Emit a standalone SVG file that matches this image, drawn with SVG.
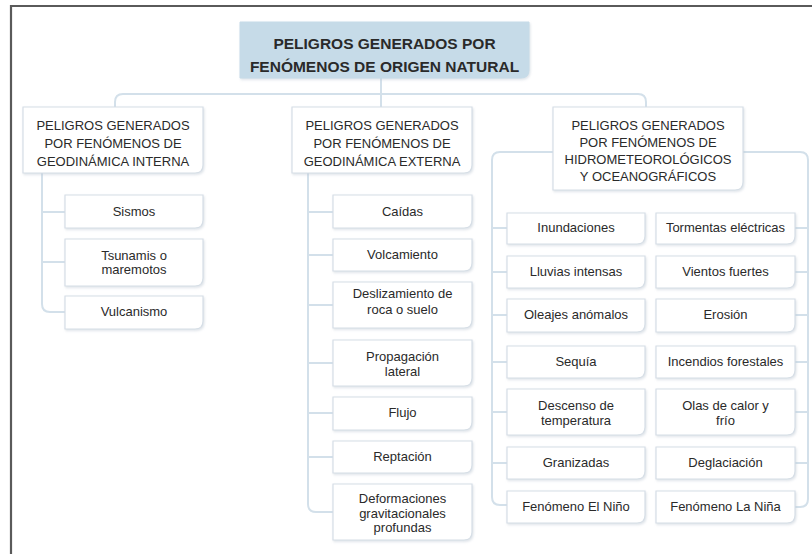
<svg xmlns="http://www.w3.org/2000/svg" width="812" height="554" viewBox="0 0 812 554">
<defs>
<filter id="sh" x="-10%" y="-10%" width="125%" height="130%">
<feDropShadow dx="1" dy="1.5" stdDeviation="1" flood-color="#b7c3cf" flood-opacity="0.45"/>
</filter>
<style>
.box{fill:#ffffff;stroke:#d6dee6;stroke-width:1.2;filter:url(#sh)}
.root{fill:#c6dbe8;stroke:#c6dbe8;stroke-width:1;filter:url(#sh)}
.con{fill:none;stroke:#d3e0ea;stroke-width:2}
text{font-family:"Liberation Sans",Arial,sans-serif;fill:#2a2a2a;text-anchor:middle}
.t0{font-size:15.5px;font-weight:bold}
.t1{font-size:13px}
.t2{font-size:13px}
.frame{stroke:#5a5a5a;stroke-width:2.2;fill:none}
</style>
</defs>
<rect width="812" height="554" fill="#ffffff"/>
<path class="frame" d="M11 554 V6 H812"/>

<g id="connectors">
<path class="con" d="M381 78 V107"/>
<path class="con" d="M115 107 V102 Q115 94 123 94 H638 Q646 94 646 102 V107"/>
<path class="con" d="M42 173 V304 Q42 312 50 312 H65 M42 212 H65 M42 262 H65"/>
<path class="con" d="M308 173 V504 Q308 512 316 512 H333 M308 212 H333 M308 255 H333 M308 305 H333 M308 363 H333 M308 413 H333 M308 457 H333"/>
<path class="con" d="M553 152 H500 Q492 152 492 160 V497 Q492 505 500 505 H507 M492 228 H507 M492 272 H507 M492 315 H507 M492 362 H507 M492 412 H507 M492 463 H507"/>
<path class="con" d="M743 152 H800 Q808 152 808 160 V499 Q808 507 800 507 H795 M795 228 H808 M795 272 H808 M795 315 H808 M795 362 H808 M795 412 H808 M795 463 H808"/>
</g>

<g id="root">
<path class="root" d="M240 22 H529 V70 Q529 78 521 78 H240 Z"/>
<text class="t0" x="384.5" y="49">PELIGROS GENERADOS POR</text>
<text class="t0" x="384.5" y="72">FENÓMENOS DE ORIGEN NATURAL</text>
</g>

<g id="interna">
<path class="box" d="M23 107 H203 V165 Q203 173 195 173 H23 Z"/>
<text class="t1" x="113" y="130">PELIGROS GENERADOS</text>
<text class="t1" x="113" y="148">POR FENÓMENOS DE</text>
<text class="t1" x="113" y="166">GEODINÁMICA INTERNA</text>
</g>
<g id="externa">
<path class="box" d="M292 107 H472 V165 Q472 173 464 173 H292 Z"/>
<text class="t1" x="382" y="130">PELIGROS GENERADOS</text>
<text class="t1" x="382" y="148">POR FENÓMENOS DE</text>
<text class="t1" x="382" y="166">GEODINÁMICA EXTERNA</text>
</g>
<g id="hidro">
<path class="box" d="M553 107 H743 V182 Q743 190 735 190 H553 Z"/>
<text class="t1" x="648" y="130">PELIGROS GENERADOS</text>
<text class="t1" x="648" y="147">POR FENÓMENOS DE</text>
<text class="t1" x="648" y="164">HIDROMETEOROLÓGICOS</text>
<text class="t1" x="648" y="181">Y OCEANOGRÁFICOS</text>
</g>

<g id="sismos">
<path class="box" d="M65 195 H203 V220 Q203 228 195 228 H65 Z"/>
<text class="t2" x="134" y="216">Sismos</text>
</g>
<g id="tsunamis">
<path class="box" d="M65 239 H203 V278 Q203 286 195 286 H65 Z"/>
<text class="t2" x="134" y="260">Tsunamis o</text>
<text class="t2" x="134" y="274">maremotos</text>
</g>
<g id="vulcanismo">
<path class="box" d="M65 296 H203 V321 Q203 329 195 329 H65 Z"/>
<text class="t2" x="134" y="316">Vulcanismo</text>
</g>

<g id="caidas">
<path class="box" d="M333 195 H472 V220 Q472 228 464 228 H333 Z"/>
<text class="t2" x="402.5" y="216">Caídas</text>
</g>
<g id="volcamiento">
<path class="box" d="M333 239 H472 V263 Q472 271 464 271 H333 Z"/>
<text class="t2" x="402.5" y="259">Volcamiento</text>
</g>
<g id="deslizamiento">
<path class="box" d="M333 282 H472 V320 Q472 328 464 328 H333 Z"/>
<text class="t2" x="402.5" y="298">Deslizamiento de</text>
<text class="t2" x="402.5" y="314">roca o suelo</text>
</g>
<g id="propagacion">
<path class="box" d="M333 340 H472 V378 Q472 386 464 386 H333 Z"/>
<text class="t2" x="402.5" y="361">Propagación</text>
<text class="t2" x="402.5" y="376">lateral</text>
</g>
<g id="flujo">
<path class="box" d="M333 397 H472 V422 Q472 430 464 430 H333 Z"/>
<text class="t2" x="402.5" y="417">Flujo</text>
</g>
<g id="reptacion">
<path class="box" d="M333 441 H472 V465 Q472 473 464 473 H333 Z"/>
<text class="t2" x="402.5" y="461">Reptación</text>
</g>
<g id="deformaciones">
<path class="box" d="M333 484 H472 V532 Q472 540 464 540 H333 Z"/>
<text class="t2" x="402.5" y="503">Deformaciones</text>
<text class="t2" x="402.5" y="518">gravitacionales</text>
<text class="t2" x="402.5" y="532">profundas</text>
</g>

<g id="inundaciones">
<path class="box" d="M507 213 H645 V236 Q645 244 637 244 H507 Z"/>
<text class="t2" x="576" y="232">Inundaciones</text>
</g>
<g id="lluvias">
<path class="box" d="M507 256 H645 V280 Q645 288 637 288 H507 Z"/>
<text class="t2" x="576" y="276">Lluvias intensas</text>
</g>
<g id="oleajes">
<path class="box" d="M507 299 H645 V324 Q645 332 637 332 H507 Z"/>
<text class="t2" x="576" y="319">Oleajes anómalos</text>
</g>
<g id="sequia">
<path class="box" d="M507 346 H645 V370 Q645 378 637 378 H507 Z"/>
<text class="t2" x="576" y="366">Sequía</text>
</g>
<g id="descenso">
<path class="box" d="M507 389 H645 V427 Q645 435 637 435 H507 Z"/>
<text class="t2" x="576" y="410">Descenso de</text>
<text class="t2" x="576" y="425">temperatura</text>
</g>
<g id="granizadas">
<path class="box" d="M507 447 H645 V471 Q645 479 637 479 H507 Z"/>
<text class="t2" x="576" y="467">Granizadas</text>
</g>
<g id="elnino">
<path class="box" d="M507 491 H645 V515 Q645 523 637 523 H507 Z"/>
<text class="t2" x="576" y="511">Fenómeno El Niño</text>
</g>

<g id="tormentas">
<path class="box" d="M656 213 H795 V236 Q795 244 787 244 H656 Z"/>
<text class="t2" x="725.5" y="232">Tormentas eléctricas</text>
</g>
<g id="vientos">
<path class="box" d="M656 256 H795 V280 Q795 288 787 288 H656 Z"/>
<text class="t2" x="725.5" y="276">Vientos fuertes</text>
</g>
<g id="erosion">
<path class="box" d="M656 299 H795 V324 Q795 332 787 332 H656 Z"/>
<text class="t2" x="725.5" y="319">Erosión</text>
</g>
<g id="incendios">
<path class="box" d="M656 346 H795 V370 Q795 378 787 378 H656 Z"/>
<text class="t2" x="725.5" y="366">Incendios forestales</text>
</g>
<g id="olas">
<path class="box" d="M656 389 H795 V427 Q795 435 787 435 H656 Z"/>
<text class="t2" x="725.5" y="410">Olas de calor y</text>
<text class="t2" x="725.5" y="425">frío</text>
</g>
<g id="deglaciacion">
<path class="box" d="M656 447 H795 V471 Q795 479 787 479 H656 Z"/>
<text class="t2" x="725.5" y="467">Deglaciación</text>
</g>
<g id="lanina">
<path class="box" d="M656 491 H795 V515 Q795 523 787 523 H656 Z"/>
<text class="t2" x="725.5" y="511">Fenómeno La Niña</text>
</g>
</svg>
